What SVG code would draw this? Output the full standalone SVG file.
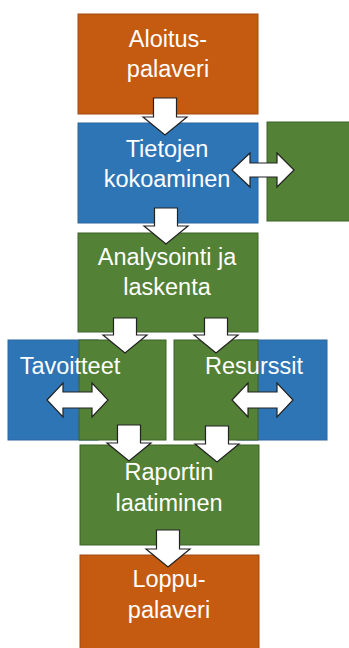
<svg xmlns="http://www.w3.org/2000/svg" width="349" height="648" viewBox="0 0 349 648">
<style>
.or{fill:#C55A11;stroke:#A04A10;stroke-width:1}
.bl{fill:#2E75B6;stroke:#2A66A0;stroke-width:1}
.gr{fill:#538135;stroke:#3E6228;stroke-width:1}
.t{fill:#fff;font-family:"Liberation Sans",Arial,sans-serif;font-size:23.5px;text-anchor:middle}
.ar{fill:#fff;stroke:#222;stroke-width:1.2;stroke-linejoin:miter}
</style>
<rect width="349" height="648" fill="#fff"/>
<g id="aloitus"><rect class="or" x="78" y="14" width="180" height="100"/><text class="t" x="168" y="47">Aloitus-</text><text class="t" x="168" y="77">palaveri</text></g>
<g id="tietojen"><rect class="bl" x="78" y="123" width="180" height="100"/><text class="t" x="167" y="157">Tietojen</text><text class="t" x="167" y="187">kokoaminen</text></g>
<g id="side"><rect class="gr" x="267" y="122" width="90" height="99"/></g>
<g id="analysointi"><rect class="gr" x="78" y="233" width="180" height="99"/><text class="t" x="167" y="265">Analysointi ja</text><text class="t" x="167" y="295">laskenta</text></g>
<g id="tavoitteet"><rect class="bl" x="8" y="340" width="90" height="100"/><rect class="gr" x="79" y="340" width="87" height="100"/><text class="t" x="70" y="374">Tavoitteet</text></g>
<g id="resurssit"><rect class="bl" x="237" y="340" width="90" height="100"/><rect class="gr" x="174" y="340" width="84" height="100"/><text class="t" x="254" y="374">Resurssit</text></g>
<g id="raportin"><rect class="gr" x="80" y="445" width="179" height="100"/><text class="t" x="169" y="480">Raportin</text><text class="t" x="169" y="511">laatiminen</text></g>
<g id="loppu"><rect class="or" x="80" y="555" width="179" height="100"/><text class="t" x="169" y="587">Loppu-</text><text class="t" x="169" y="618">palaveri</text></g>
<g id="connectors">
<path class="ar" d="M153.5 98 H176.5 V117 H187 L165 135 L143 117 H153.5 Z"/>
<path class="ar" d="M154.5 208 H177.5 V226 H188 L166 244 L144 226 H154.5 Z"/>
<path class="ar" d="M113.5 318 H136.5 V335 H147 L125 353 L103 335 H113.5 Z"/>
<path class="ar" d="M204.5 318 H227.5 V335 H238 L216 353 L194 335 H204.5 Z"/>
<path class="ar" d="M117.5 425 H140.5 V443 H151 L129 461 L107 443 H117.5 Z"/>
<path class="ar" d="M205.5 426 H228.5 V444 H239 L217 462 L195 444 H205.5 Z"/>
<path class="ar" d="M156.5 530 H179.5 V549 H190 L168 567 L146 549 H156.5 Z"/>
<path class="ar" d="M232 170 L250 153 V163 H277 V153 L294 170 L277 187 V177 H250 V187 Z"/>
<path class="ar" d="M47 400 L63 383 V392 H92 V383 L108 400 L92 417 V408 H63 V417 Z"/>
<path class="ar" d="M232 400 L248 383 V392 H277 V383 L293 400 L277 417 V408 H248 V417 Z"/>
</g>
</svg>
